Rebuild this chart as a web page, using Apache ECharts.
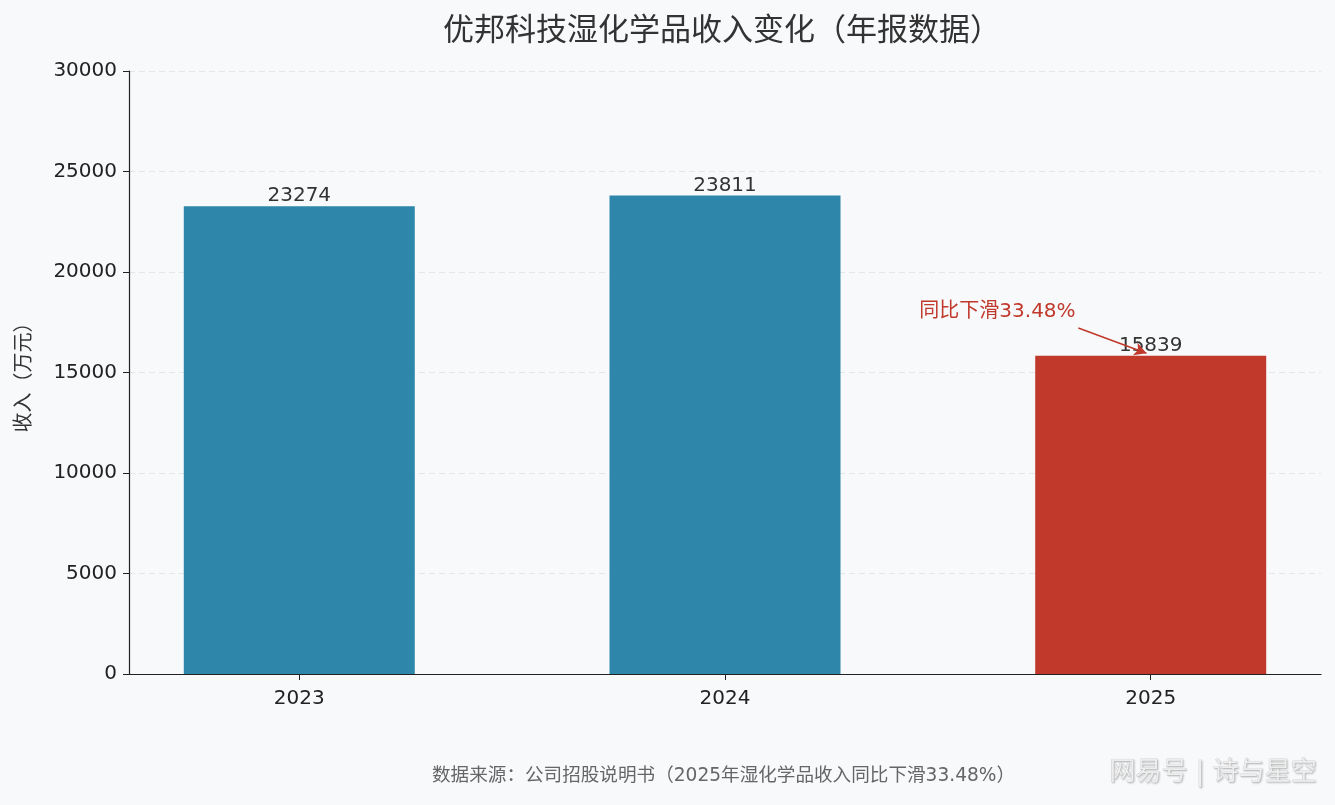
<!DOCTYPE html>
<html>
<head>
<meta charset="utf-8">
<script src="https://cdn.jsdelivr.net/npm/echarts@6/dist/echarts.min.js"></script>
<style>
html,body{margin:0;padding:0;background:#F7F9FB;}
#c{width:1335px;height:805px;}
</style>
</head>
<body>
<div id="c"></div>
<script>
const titleText = '优邦科技湿化学品收入变化（年报数据）';
const years = ['2023', '2024', '2025'];
const revenue = [23274, 23811, 15839];
const barColors = ['#2E86AB', '#2E86AB', '#C0392B'];
const yTicks = [0, 5000, 10000, 15000, 20000, 25000, 30000];
const annotationText = '同比下滑33.48%';
const annotationTextAt = [1.64, 18010];
const arrowFrom = [1.83, 17220];
const arrowTo = [1.99, 15960];
const sourceText = '数据来源：公司招股说明书（2025年湿化学品收入同比下滑33.48%）';
const watermarkText = '网易号 | 诗与星空';

const FONT = '"DejaVu Sans", "Noto Sans CJK SC", sans-serif';
const chart = echarts.init(document.getElementById('c'));
chart.setOption({
  backgroundColor: '#F7F9FB',
  textStyle: { fontFamily: FONT },
  title: {
    text: titleText,
    left: 717, top: 11, textAlign: 'center',
    textStyle: { fontSize: 31, fontWeight: 'normal', color: '#333', fontFamily: FONT }
  },
  grid: { left: 129, right: 14, top: 71, bottom: 131, containLabel: false },
  xAxis: {
    type: 'value', min: -0.4, max: 2.4,
    axisLine: { show: true, onZero: false, lineStyle: { color: '#222', width: 1.2 } },
    axisTick: { show: true, customValues: years.map((_, i) => i), length: 6, lineStyle: { color: '#222' } },
    axisLabel: { customValues: years.map((_, i) => i), formatter: v => years[Math.round(v)], fontSize: 20, color: '#222', margin: 15, fontFamily: FONT },
    splitLine: { show: false }
  },
  yAxis: {
    type: 'value', min: yTicks[0], max: yTicks[yTicks.length - 1], interval: yTicks[1] - yTicks[0],
    name: '收入（万元）', nameLocation: 'middle', nameGap: 94, nameRotate: 90,
    nameTextStyle: { fontSize: 20, color: '#333', fontFamily: FONT },
    axisLine: { show: true, onZero: false, lineStyle: { color: '#222', width: 1.2 } },
    axisTick: { show: true, length: 6, lineStyle: { color: '#222' } },
    axisLabel: { fontSize: 20, color: '#222', margin: 12, fontFamily: FONT, formatter: v => String(v) },
    splitLine: { show: true, lineStyle: { type: [6, 4], color: '#E3E7EB', width: 1 } }
  },
  series: [{
    type: 'bar',
    barWidth: 231,
    data: revenue.map((v, i) => ({ value: [i, v], itemStyle: { color: barColors[i] } })),
    label: {
      show: true, position: 'top', distance: 0,
      formatter: p => String(p.value[1]),
      fontSize: 20, color: '#333', fontFamily: FONT
    },
    markLine: {
      silent: true, animation: false,
      symbol: ['none', 'arrow'], symbolSize: [10, 12],
      lineStyle: { color: '#C0392B', width: 1.6, type: 'solid' },
      label: { show: false },
      data: [[{ coord: arrowFrom }, { coord: arrowTo }]]
    },
    markPoint: {
      silent: true, animation: false,
      symbol: 'circle', symbolSize: 0,
      label: { show: true, position: 'inside', formatter: annotationText, color: '#C0392B', fontSize: 20, fontFamily: FONT },
      data: [{ coord: annotationTextAt }]
    }
  }],
  graphic: [
    { type: 'text', left: 432, top: 767, style: { text: sourceText, fontSize: 18.6, fill: '#666', fontFamily: FONT } },
    { type: 'text', right: 18, top: 760, style: { text: watermarkText, fontSize: 26, fill: '#EEEEEE', stroke: '#C4C4C4', lineWidth: 0.5, fontFamily: FONT, textShadowColor: 'rgba(0,0,0,0.2)', textShadowBlur: 2, textShadowOffsetX: 1, textShadowOffsetY: 1 } }
  ]
});
</script>
</body>
</html>
